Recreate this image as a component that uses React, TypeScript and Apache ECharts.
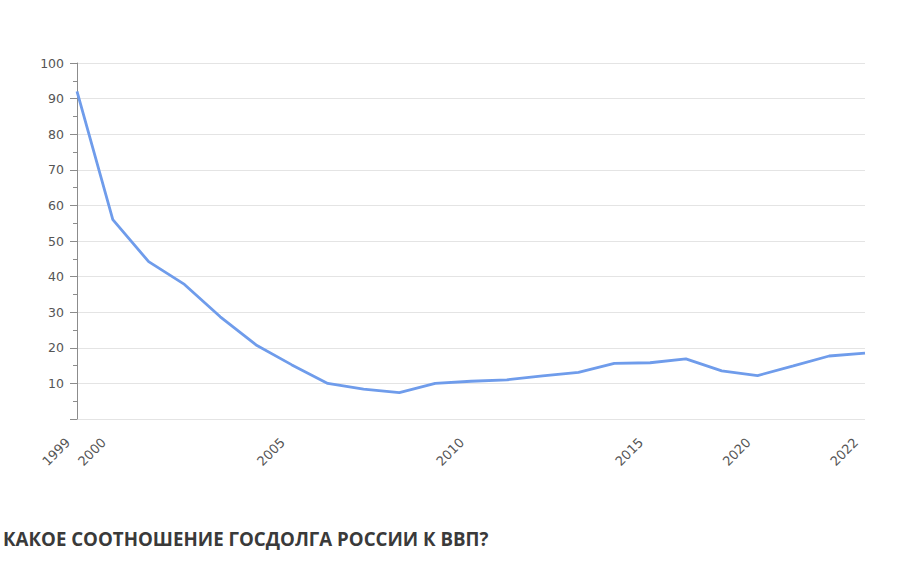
import React, { useEffect, useRef } from "react";
import * as echarts from "echarts";

const categories = [
  "1999", "2000", "2001", "2002", "2003", "2004", "2005", "2006", "2007", "2008",
  "2009", "2010", "2011", "2012", "2013", "2014", "2015", "2016", "2018", "2020",
  "2021", "2021 II", "2022",
];
const shownLabels = ["1999", "2000", "2005", "2010", "2015", "2020", "2022"];
const debtToGdp = [
  92, 56, 44.2, 37.8, 28.7, 20.8, 15.2, 10.0, 8.4, 7.4,
  10.0, 10.6, 11.0, 12.1, 13.1, 15.6, 15.8, 16.9, 13.5, 12.2,
  14.9, 17.7, 18.5,
];
const title = "КАКОЕ СООТНОШЕНИЕ ГОСДОЛГА РОССИИ К ВВП?";

export default function App() {
  const ref = useRef<HTMLDivElement>(null);
  useEffect(() => {
    document.body.style.margin = "0";
    const chart = echarts.init(ref.current!, null, { renderer: "svg" });
    chart.setOption({
      animation: false,
      backgroundColor: "#ffffff",
      title: {
        text: title,
        left: 3,
        top: 529,
        padding: 0,
        textStyle: {
          fontFamily: "Open Sans",
          fontWeight: "bold",
          fontSize: 18.7,
          color: "#3a3a3a",
        },
      },
      grid: { left: 77, right: 59, top: 63, bottom: 149 },
      xAxis: {
        type: "category",
        data: categories,
        boundaryGap: false,
        axisLine: { show: false },
        axisTick: { show: false },
        splitLine: { show: false },
        axisLabel: {
          interval: (_i: number, v: string) => shownLabels.includes(v),
          rotate: 45,
          margin: 12,
          padding: [0, 13, 0, 0],
          color: "#555555",
          fontFamily: "DejaVu Sans",
          fontSize: 13,
        },
      },
      yAxis: {
        type: "value",
        min: 0,
        max: 100,
        interval: 10,
        axisLine: { show: true, lineStyle: { color: "#8c8c8c", width: 1 } },
        axisTick: { show: true, length: 7, lineStyle: { color: "#8c8c8c" } },
        minorTick: { show: true, splitNumber: 2, length: 4, lineStyle: { color: "#8c8c8c" } },
        splitLine: { show: true, lineStyle: { color: "#e4e4e4", width: 1 } },
        axisLabel: {
          formatter: (v: number) => (v === 0 ? "" : String(v)),
          margin: 13,
          color: "#555555",
          fontFamily: "DejaVu Sans",
          fontSize: 12.5,
        },
      },
      series: [
        {
          type: "line",
          data: debtToGdp,
          showSymbol: false,
          symbol: "none",
          lineStyle: { color: "#6f9ceb", width: 2.8 },
        },
      ],
    });
    return () => chart.dispose();
  }, []);
  return <div ref={ref} style={{ width: 924, height: 568 }} />;
}
